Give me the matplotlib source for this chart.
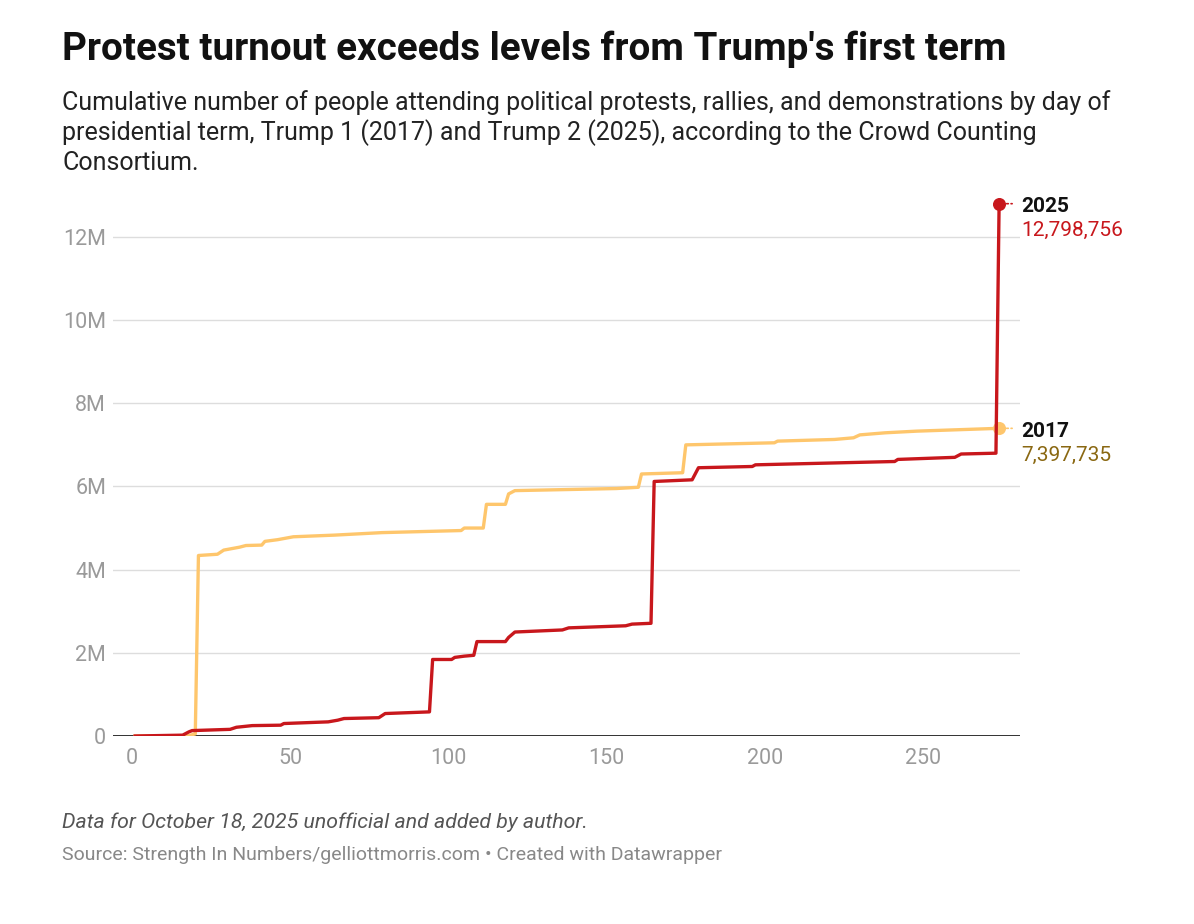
import numpy as np
import matplotlib
matplotlib.use('Agg')
import matplotlib.pyplot as plt
from matplotlib.ticker import FuncFormatter

plt.rcParams['font.family'] = ['Roboto', 'DejaVu Sans']

# cumulative attendance (millions) by day of term
days_2017 = [1, 18, 20, 21, 27, 29, 34, 36, 41, 42, 46, 51, 64, 79, 104, 105, 111, 112,
             118, 119, 121, 153, 160, 161, 174, 175, 203, 204, 222, 228, 230, 238, 248, 274]
vals_2017 = [0, 0.01, 0.05, 4.34, 4.37, 4.47, 4.54, 4.58, 4.59, 4.68, 4.72, 4.79, 4.83, 4.89,
             4.94, 5.00, 5.00, 5.57, 5.57, 5.82, 5.90, 5.95, 5.98, 6.30, 6.33, 7.00, 7.05,
             7.09, 7.13, 7.17, 7.24, 7.29, 7.33, 7.397735]

days_2025 = [1, 16, 18, 19, 31, 33, 38, 47, 48, 62, 65, 67, 78, 80, 94, 95, 101, 102, 105, 108,
             109, 118, 119, 121, 136, 138, 156, 158, 164, 165, 177, 179, 196, 197, 241, 242,
             260, 262, 273, 274]
vals_2025 = [0, 0.02, 0.10, 0.13, 0.16, 0.21, 0.25, 0.26, 0.30, 0.34, 0.38, 0.42, 0.44, 0.54,
             0.58, 1.84, 1.84, 1.89, 1.92, 1.94, 2.27, 2.27, 2.37, 2.50, 2.55, 2.60, 2.65, 2.69,
             2.71, 6.12, 6.16, 6.45, 6.48, 6.52, 6.60, 6.65, 6.70, 6.78, 6.80, 12.798756]

y_ticks = [0, 2e6, 4e6, 6e6, 8e6, 10e6, 12e6]
x_ticks = [0, 50, 100, 150, 200, 250]

red = '#c8171c'
orange = '#fec66c'
gold = '#8a6812'

W, H = 1194, 924
fig = plt.figure(figsize=(W / 100, H / 100), dpi=100)

def px(x, y):
    return x / W, 1 - y / H

# axes placed so that day 0 -> x=132px, 0 -> y=736px
ax = fig.add_axes([113 / W, 188 / H, (1020 - 113) / W, (736 - 187) / H])
ax.set_xlim(-6, 280.6)
ax.set_ylim(0, 13.2e6)

y17 = np.array(vals_2017) * 1e6
y25 = np.array(vals_2025) * 1e6
ax.plot(days_2017, y17, color=orange, lw=2.4, solid_joinstyle='round', zorder=3)
ax.plot(days_2025, y25, color=red, lw=2.4, solid_joinstyle='round', zorder=4)
ax.scatter([days_2017[-1]], [y17[-1]], s=70, color=orange, zorder=3)
ax.scatter([days_2025[-1]], [y25[-1]], s=70, color=red, zorder=5)

for v in y_ticks[1:]:
    ax.axhline(v, color='#dddddd', lw=1, zorder=1)
ax.axhline(0, color='#222222', lw=1.3, zorder=2)

for s in ax.spines.values():
    s.set_visible(False)
ax.set_yticks(y_ticks)
ax.set_xticks(x_ticks)
ax.yaxis.set_major_formatter(FuncFormatter(lambda v, p: '0' if v == 0 else '%dM' % (v / 1e6)))
ax.tick_params(axis='both', length=0, labelsize=15.5, labelcolor='#9a9a9a')
ax.tick_params(axis='y', pad=5)
ax.tick_params(axis='x', pad=9)

# end labels
for d, v, col in [(days_2025[-1], y25[-1], red), (days_2017[-1], y17[-1], orange)]:
    ax.annotate('', xy=(d + 5, v), xytext=(d + 1.5, v),
                arrowprops=dict(arrowstyle='-', color=col, ls=':', lw=1.2))

fig.text(*px(1021, 212), '2025', fontsize=15, fontweight='bold', color='#111111', va='baseline')
fig.text(*px(1021, 236), '12,798,756', fontsize=15, color=red, va='baseline')
fig.text(*px(1021, 437), '2017', fontsize=15, fontweight='bold', color='#111111', va='baseline')
fig.text(*px(1021, 461), '7,397,735', fontsize=15, color=gold, va='baseline')

fig.text(*px(62, 60), "Protest turnout exceeds levels from Trump's first term",
         fontsize=27.8, fontweight='bold', color='#111111', va='baseline')
sub = ['Cumulative number of people attending political protests, rallies, and demonstrations by day of',
       'presidential term, Trump 1 (2017) and Trump 2 (2025), according to the Crowd Counting',
       'Consortium.']
for i, line in enumerate(sub):
    fig.text(*px(62, 110 + 30 * i), line, fontsize=18, color='#222222', va='baseline')

fig.text(*px(62, 828), 'Data for October 18, 2025 unofficial and added by author.',
         fontsize=15.3, style='italic', color='#555555', va='baseline')
fig.text(*px(62, 860), 'Source: Strength In Numbers/gelliottmorris.com \u2022 Created with Datawrapper',
         fontsize=14, color='#888888', va='baseline')

fig.savefig('out.png', dpi=100, facecolor='white')
